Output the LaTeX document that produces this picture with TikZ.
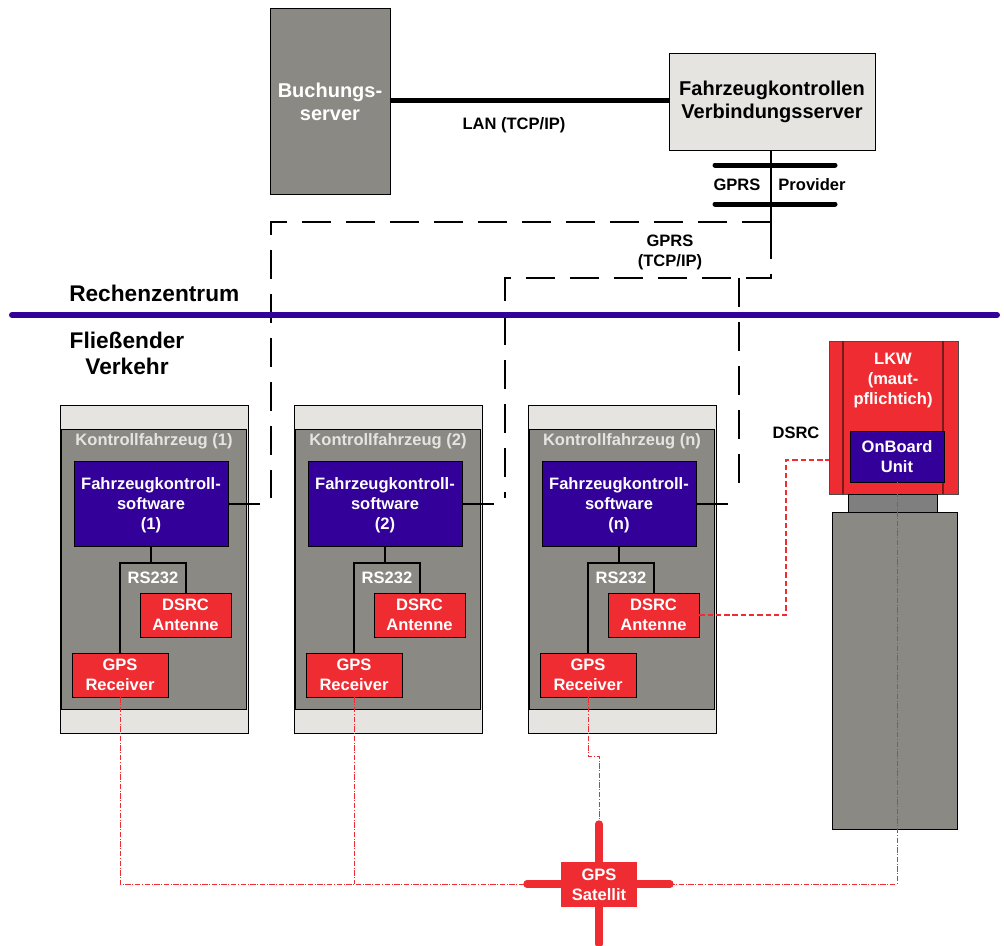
\documentclass[tikz,border=0pt]{standalone}
\usepackage{fontspec}
\setmainfont{Liberation Sans}
\usetikzlibrary{fit}
\definecolor{dgray}{HTML}{8A8983}
\definecolor{lgray}{HTML}{E5E4E0}
\definecolor{purp}{HTML}{330099}
\definecolor{myred}{HTML}{EE2C31}
\definecolor{neckgray}{HTML}{7F7F7F}
\definecolor{darkred}{HTML}{7A1A1A}
\newcommand\fsn{\fontsize{12.4}{15}\selectfont\bfseries}
\newcommand\fsb{\fontsize{15}{17.3}\selectfont\bfseries}
\newcommand\fsl{\fontsize{17}{19.5}\selectfont\bfseries}
\begin{document}
\begin{tikzpicture}[x=0.75pt,y=-0.75pt,
  box/.style={draw=black,line width=0.6pt,inner sep=0pt},
  graybox/.style={box,fill=dgray},
  lightbox/.style={box,fill=lgray},
  purpbox/.style={box,fill=purp},
  redbox/.style={box,fill=myred},
  lbl/.style={font=\fsn,text=black,align=center,inner sep=0pt},
  wlbl/.style={font=\fsn,text=white,align=center,inner sep=0pt},
  conn/.style={draw=black,line width=1.5pt},
  thickconn/.style={draw=black,line width=3.75pt},
  bar/.style={draw=black,line width=3.75pt,line cap=round},
  gprs/.style={draw=black,line width=1.4pt,dash pattern=on 22pt off 11pt},
  dsrclink/.style={draw=myred,line width=1.1pt,dash pattern=on 4pt off 2.2pt},
  gpslink/.style={draw=myred,line width=0.7pt,dash pattern=on 4pt off 1.2pt on 0.8pt off 1.2pt},
  satarm/.style={draw=myred,line width=5.5pt,line cap=round}]
\useasboundingbox (0,0) rectangle (1004,946);
\fill[white] (0,0) rectangle (1004,946);

% Servers
\node[graybox,fit={(270,8) (390,194)},
  label={[wlbl,font=\fsb,yshift=-0.4pt]center:Buchungs-\\server}] (bs) {};
\node[lightbox,fit={(669,53) (875,150)},
  label={[lbl,font=\fsb,yshift=-0.4pt]center:Fahrzeugkontrollen\\Verbindungsserver}] (vs) {};
\draw[thickconn] (bs.east |- 0,100) -- (vs.west |- 0,100);
\node[lbl] (lan) at (514,125) {LAN (TCP/IP)};

% GPRS provider
\coordinate (gs) at (771,230);
\coordinate (g1) at (771,222);
\coordinate (g2) at (771,278);
\draw[conn] (vs.south -| gs) -- (gs);
\coordinate (b1l) at (715,165); \coordinate (b1r) at (835,165);
\coordinate (b2l) at (715,204); \coordinate (b2r) at (835,204);
\draw[bar] (b1l) -- (b1r);
\draw[bar] (b2l) -- (b2r);
\node[lbl] (gprsl) at (737,185) {GPRS};
\node[lbl] (prov) at (812,185) {Provider};
\node[lbl] (gprs2) at (670,252) {GPRS\\(TCP/IP)};

% Dashed GPRS connections
\coordinate (d0) at (271,498);
\coordinate (d1) at (505,498);
\coordinate (d2) at (739,498);
\draw[gprs] (g1) -- (271,222) -- (d0);
\draw[gprs] (gs) -- (g2) -- (505,278) -- (d1);
\draw[gprs] (739,278) -- (d2);

% Separator
\coordinate (sepl) at (12,315); \coordinate (sepr) at (997,315);
\draw[draw=purp,line width=4.5pt,line cap=round] (sepl) -- (sepr);
\node[font=\fsl,anchor=west,inner sep=0pt] (rz) at (69,293) {Rechenzentrum};
\node[font=\fsl,align=center,inner sep=0pt] (fv) at (127,353) {Fließender\\Verkehr};

% Control vehicles
\foreach \i/\k in {0/1,1/2,2/n}{
  \pgfmathsetmacro{\dx}{\i*234}
  \node[lightbox,fit={({60+\dx},405) ({248+\dx},733)}] (kv\i) {};
  \node[graybox,fit={({61+\dx},429) ({246+\dx},709)}] (ki\i) {};
  \node[wlbl,text=lgray] (kt\i) at ({154+\dx},441) {Kontrollfahrzeug (\k)};
  \node[purpbox,fit={({74+\dx},461) ({228+\dx},546)},
    label={[wlbl,yshift=-1pt]center:Fahrzeugkontroll-\\software\\(\k)}] (sw\i) {};
  \node[redbox,fit={({140+\dx},593) ({231+\dx},637)},
    label={[wlbl]center:DSRC\\Antenne}] (dsrc\i) {};
  \node[redbox,fit={({72+\dx},653) ({168+\dx},697)},
    label={[wlbl]center:GPS\\Receiver}] (gps\i) {};
  \draw[conn] (sw\i.south) -- ++(0,17) coordinate (j\i);
  \draw[conn] (gps\i.north) |- (j\i) -| (dsrc\i.north);
  \node[wlbl] (rs\i) at ({153+\dx},578) {RS232};
  \draw[conn] (sw\i.east) -- ++(32,0) coordinate (e\i);
}

% LKW
\node[redbox,draw=black!70,fit={(829,341) (958,494)}] (lkw) {};
\draw[darkred,line width=0.9pt] (843,341) -- (843,494);
\draw[darkred,line width=0.9pt] (943,341) -- (943,494);
\node[wlbl] (lkwt) at (893,381) {LKW\\(maut-\\pflichtich)};
\node[purpbox,fit={(850,431) (944,482)},
  label={[wlbl]center:OnBoard\\Unit}] (obu) {};
\node[box,fill=neckgray,fit={(848,494) (937,512)}] (neck) {};
\node[graybox,fit={(832,512) (957,829)}] (trailer) {};

% DSRC link
\node[lbl] (dsrcl) at (796,433) {DSRC};
\coordinate (dl) at (786,460);
\draw[dsrclink] (dsrc2.east) -| (dl) -- (lkw.west |- dl);

% GPS satellite
\coordinate (satL) at (527,884);
\coordinate (satR) at (670,884);
\coordinate (satT) at (599,824);
\coordinate (satB) at (599,944);
\draw[satarm] (satL) -- (satR);
\draw[satarm] (satT) -- (satB);
\node[redbox,draw=none,fit={(561,862) (637,907)},
  label={[wlbl]center:GPS\\Satellit}] (sat) {};

% GPS links
\draw[gpslink] (gps0.south) |- (satL);
\draw[gpslink] (gps1.south) -- (gps1.south |- satL);
\coordinate (gj) at (588,756);
\draw[gpslink] (gps2.south) -- (gj) -| (satT);
\draw[gpslink] (obu.south) |- (satR);
\end{tikzpicture}
\end{document}
